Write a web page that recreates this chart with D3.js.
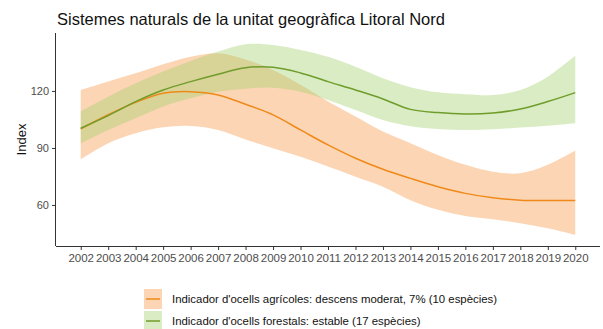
<!DOCTYPE html>
<html>
<head>
<meta charset="utf-8">
<script src="https://cdn.jsdelivr.net/npm/d3@7"></script>
<style>
  html, body { margin: 0; padding: 0; background: #ffffff; }
  svg { display: block; font-family: "Liberation Sans", Arial, sans-serif; }
</style>
</head>
<body>
<svg id="chart" width="603" height="329"></svg>
<script>
const title = "Sistemes naturals de la unitat geogràfica Litoral Nord";
const yAxisTitle = "Index";
const years = [2002, 2003, 2004, 2005, 2006, 2007, 2008, 2009, 2010, 2011, 2012, 2013, 2014, 2015, 2016, 2017, 2018, 2019, 2020];
const yTicks = [60, 90, 120];

// Agricultural birds indicator (orange)
const agriValue = [100, 107.5, 114, 118.8, 119.6, 117.9, 113, 107.4, 99.5, 91.6, 84.6, 78.8, 74.0, 69.6, 66.1, 63.8, 62.5, 62.3, 62.3];
const agriUpper = [120.5, 125, 129.3, 134, 138, 139.8, 136.5, 131, 123.2, 114.4, 106.5, 98.6, 92.5, 86.3, 81.1, 77.5, 76.7, 81.1, 88.6];
const agriLower = [84, 92.5, 97.8, 100.9, 101.6, 99.5, 94.5, 89.8, 85.4, 80.2, 74.9, 69.6, 62.5, 57.5, 54.2, 52.5, 50.4, 47.7, 44.2];

// Forest birds indicator (green)
const forestValue = [100.4, 107, 114.4, 120.5, 124.9, 128.8, 132.2, 132.5, 129.5, 124.9, 120.5, 115.8, 110.3, 108.6, 107.9, 108.4, 110.5, 114.4, 119.1];
const forestUpper = [109.3, 117, 124, 130.2, 135.8, 140.7, 144.6, 144.2, 141.6, 138, 132.8, 126.7, 122, 119.3, 118.3, 117.9, 120.5, 127.5, 138.6];
const forestLower = [92.5, 99.5, 105.6, 111.8, 116.1, 119.6, 121.2, 121.7, 119.6, 115.3, 110, 104.7, 101.4, 100, 99.5, 99.8, 100.7, 101.7, 103];

const legendLabels = [
  "Indicador d'ocells agrícoles: descens moderat, 7% (10 espècies)",
  "Indicador d'ocells forestals: estable (17 espècies)"
];

const series = [
  { name: legendLabels[0], value: agriValue, upper: agriUpper, lower: agriLower, line: "#ef8a1a", fill: "rgb(247,150,67)" },
  { name: legendLabels[1], value: forestValue, upper: forestUpper, lower: forestLower, line: "#6f9d2c", fill: "rgb(162,207,107)" }
];

const svg = d3.select("#chart");
const padL = 56, padR = 600, padT = 33, padB = 246;

const x = d3.scaleLinear().domain([2001.1, 2020.9]).range([padL, padR]);
const y = d3.scaleLinear().domain([38.4, 150.5]).range([padB, padT]);

// Title
svg.append("text")
  .attr("x", 57).attr("y", 25)
  .attr("font-size", 16.5).attr("fill", "#111")
  .text(title);

const curve = d3.curveCatmullRom.alpha(0.5);

// Bands
series.forEach(s => {
  const area = d3.area()
    .x((d, i) => x(years[i]))
    .y0((d, i) => y(s.lower[i]))
    .y1((d, i) => y(s.upper[i]))
    .curve(curve);
  svg.append("path").attr("d", area(years))
    .attr("fill", s.fill).attr("fill-opacity", 0.4);
});

// Lines
series.forEach(s => {
  const line = d3.line()
    .x((d, i) => x(years[i]))
    .y((d, i) => y(s.value[i]))
    .curve(curve);
  svg.append("path").attr("d", line(years))
    .attr("fill", "none").attr("stroke", s.line).attr("stroke-width", 1.5);
});

// Axes
const xAxis = d3.axisBottom(x).tickValues(years).tickFormat(d3.format("d")).tickSize(4).tickPadding(4);
const gx = svg.append("g").attr("transform", `translate(0,${padB})`).call(xAxis);
gx.select(".domain").attr("stroke", "#333").attr("stroke-width", 1).attr("d", `M${padL},0.5H${padR}`);
gx.selectAll(".tick line").attr("stroke", "#333");
gx.selectAll(".tick text").attr("font-size", 11.5).attr("fill", "#4d4d4d").attr("font-family", "Liberation Sans, Arial, sans-serif");

const yAxis = d3.axisLeft(y).tickValues(yTicks).tickSize(4).tickPadding(3);
const gy = svg.append("g").attr("transform", `translate(${padL},0)`).call(yAxis);
gy.select(".domain").attr("stroke", "#333").attr("stroke-width", 1).attr("d", `M-0.5,${padT}V${padB}`);
gy.selectAll(".tick line").attr("stroke", "#333");
gy.selectAll(".tick text").attr("font-size", 11).attr("fill", "#4d4d4d").attr("font-family", "Liberation Sans, Arial, sans-serif");

// Y axis title
svg.append("text")
  .attr("transform", `translate(26,${(padT + padB) / 2}) rotate(-90)`)
  .attr("text-anchor", "middle")
  .attr("font-size", 13).attr("fill", "#111")
  .text(yAxisTitle);

// Legend
const legendY = [289, 311];
series.forEach((s, i) => {
  const g = svg.append("g").attr("transform", `translate(144,${legendY[i]})`);
  g.append("rect").attr("x", 0).attr("y", 0).attr("width", 18).attr("height", 20)
    .attr("fill", s.fill).attr("fill-opacity", 0.4);
  g.append("line").attr("x1", 2).attr("x2", 16).attr("y1", 10).attr("y2", 10)
    .attr("stroke", s.line).attr("stroke-width", 1.5);
  g.append("text").attr("x", 28).attr("y", 10).attr("dy", "0.35em")
    .attr("font-size", 11.4).attr("fill", "#111").text(s.name);
});
</script>
</body>
</html>
